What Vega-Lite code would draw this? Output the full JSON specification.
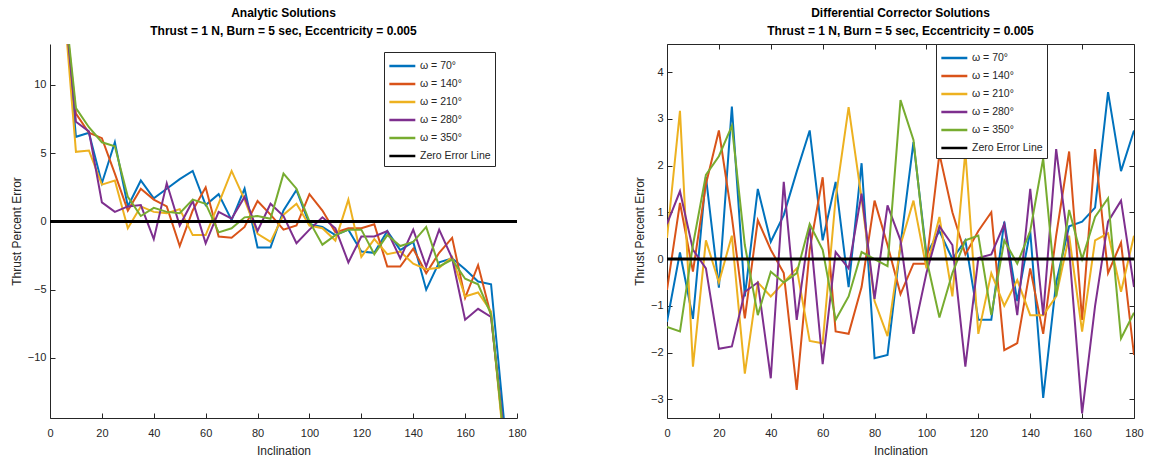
{
  "$schema": "https://vega.github.io/schema/vega-lite/v6.json",
  "padding": {"left": 10, "top": 6, "right": 5, "bottom": 0},
  "background": "white",
  "spacing": 106,
  "config": {
    "font": "Liberation Sans",
    "view": {"stroke": null},
    "axis": {
      "grid": false,
      "domainColor": "#262626",
      "tickColor": "#262626",
      "labelColor": "#262626",
      "titleColor": "#262626",
      "labelFont": "Liberation Sans",
      "titleFont": "Liberation Sans",
      "labelFontSize": 11,
      "titleFontSize": 12,
      "titleFontWeight": "normal",
      "tickSize": -5,
      "labelPadding": 9,
      "labelFlush": false,
      "labelOverlap": false
    },
    "axisX": {"labelPadding": 14, "titlePadding": 7},
    "title": {"font": "Liberation Sans", "fontSize": 12, "fontWeight": "bold", "color": "#000000", "anchor": "middle", "offset": 6, "lineHeight": 18},
    "legend": {
      "orient": "none",
      "strokeColor": "#262626",
      "fillColor": "white",
      "padding": 4,
      "symbolType": "M-1,0H2",
      "symbolSize": 300,
      "symbolStrokeWidth": 2.5,
      "labelFont": "Liberation Sans",
      "labelFontSize": 10.5,
      "labelColor": "#262626",
      "rowPadding": 2,
      "labelOffset": 12,
      "title": null
    }
  },
  "datasets": {
    "analytic": [
      {"inc": 5, "w70": 17.2, "w140": 17.0, "w210": 16.8, "w280": 17.1, "w350": 17.3},
      {"inc": 10, "w70": 6.2, "w140": 7.9, "w210": 5.1, "w280": 7.3, "w350": 8.3},
      {"inc": 15, "w70": 6.5, "w140": 6.5, "w210": 5.2, "w280": 6.6, "w350": 6.9},
      {"inc": 20, "w70": 2.8, "w140": 6.1, "w210": 2.7, "w280": 1.4, "w350": 5.8},
      {"inc": 25, "w70": 5.8, "w140": 3.5, "w210": 3.0, "w280": 0.7, "w350": 5.5},
      {"inc": 30, "w70": 1.1, "w140": 0.8, "w210": -0.5, "w280": 1.1, "w350": 1.8},
      {"inc": 35, "w70": 3.0, "w140": 2.4, "w210": 1.1, "w280": 1.2, "w350": 0.4},
      {"inc": 40, "w70": 1.7, "w140": 1.6, "w210": 0.7, "w280": -1.3, "w350": 1.0},
      {"inc": 45, "w70": 2.4, "w140": 1.1, "w210": 0.6, "w280": 2.8, "w350": 0.7},
      {"inc": 50, "w70": 3.1, "w140": -1.8, "w210": 0.9, "w280": -0.3, "w350": 0.6},
      {"inc": 55, "w70": 3.7, "w140": 0.8, "w210": -1.0, "w280": 1.5, "w350": 1.6},
      {"inc": 60, "w70": 1.2, "w140": 2.5, "w210": -1.0, "w280": -1.6, "w350": 1.3},
      {"inc": 65, "w70": 2.0, "w140": -1.1, "w210": 1.3, "w280": 0.7, "w350": -0.8},
      {"inc": 70, "w70": 0.1, "w140": -1.2, "w210": 3.7, "w280": 0.2, "w350": -0.5},
      {"inc": 75, "w70": 2.4, "w140": -0.4, "w210": 1.6, "w280": 1.8, "w350": 0.3},
      {"inc": 80, "w70": -1.9, "w140": 1.5, "w210": -0.9, "w280": -0.7, "w350": 0.4},
      {"inc": 85, "w70": -1.9, "w140": 0.5, "w210": -1.5, "w280": 1.3, "w350": 0.2},
      {"inc": 90, "w70": 0.8, "w140": -0.6, "w210": 0.5, "w280": 0.4, "w350": 3.5},
      {"inc": 95, "w70": 2.3, "w140": -0.3, "w210": 1.3, "w280": -1.6, "w350": 2.4},
      {"inc": 100, "w70": -0.2, "w140": 2.0, "w210": -0.3, "w280": -0.6, "w350": 0.0},
      {"inc": 105, "w70": -0.4, "w140": 0.8, "w210": -0.5, "w280": 0.3, "w350": -1.7},
      {"inc": 110, "w70": -1.0, "w140": -0.8, "w210": -1.4, "w280": -0.5, "w350": -1.0},
      {"inc": 115, "w70": -0.6, "w140": -0.5, "w210": 1.6, "w280": -3.0, "w350": -0.6},
      {"inc": 120, "w70": -2.2, "w140": -0.5, "w210": -2.6, "w280": -1.1, "w350": -0.6},
      {"inc": 125, "w70": -2.3, "w140": -0.2, "w210": -1.3, "w280": -1.1, "w350": -2.4},
      {"inc": 130, "w70": -0.7, "w140": -3.3, "w210": -2.4, "w280": -0.7, "w350": -1.0},
      {"inc": 135, "w70": -2.1, "w140": -3.3, "w210": -2.2, "w280": -2.7, "w350": -1.8},
      {"inc": 140, "w70": -1.5, "w140": -2.0, "w210": -3.1, "w280": -0.6, "w350": -1.5},
      {"inc": 145, "w70": -5.0, "w140": -3.8, "w210": -3.5, "w280": -3.3, "w350": -0.4},
      {"inc": 150, "w70": -3.0, "w140": -2.3, "w210": -3.4, "w280": -0.6, "w350": -3.3},
      {"inc": 155, "w70": -2.7, "w140": -1.2, "w210": -2.6, "w280": -2.7, "w350": -2.8},
      {"inc": 160, "w70": -3.5, "w140": -5.6, "w210": -5.5, "w280": -7.2, "w350": -4.2},
      {"inc": 165, "w70": -4.4, "w140": -3.2, "w210": -5.2, "w280": -6.4, "w350": -4.6},
      {"inc": 170, "w70": -4.6, "w140": -6.9, "w210": -6.6, "w280": -7.0, "w350": -6.8},
      {"inc": 175, "w70": -14.6, "w140": -16.0, "w210": -16.5, "w280": -15.5, "w350": -16.0}
    ],
    "dc": [
      {"inc": 0, "w70": -1.34, "w140": -0.66, "w210": 0.45, "w280": 0.75, "w350": -1.45},
      {"inc": 5, "w70": 0.14, "w140": 1.2, "w210": 3.17, "w280": 1.45, "w350": -1.55},
      {"inc": 10, "w70": -1.28, "w140": -0.27, "w210": -2.3, "w280": 0.2, "w350": 0.3},
      {"inc": 15, "w70": 1.76, "w140": 1.6, "w210": 0.4, "w280": -0.2, "w350": 1.8},
      {"inc": 20, "w70": -0.61, "w140": 2.75, "w210": -0.5, "w280": -1.92, "w350": 2.2},
      {"inc": 25, "w70": 3.26, "w140": 0.9, "w210": 0.5, "w280": -1.87, "w350": 2.85},
      {"inc": 30, "w70": -0.8, "w140": -1.27, "w210": -2.45, "w280": -0.7, "w350": 0.3},
      {"inc": 35, "w70": 1.5, "w140": 0.83, "w210": -0.5, "w280": -0.5, "w350": -1.2},
      {"inc": 40, "w70": 0.37, "w140": 0.2, "w210": -0.8, "w280": -2.55, "w350": -0.27},
      {"inc": 45, "w70": 0.94, "w140": -0.3, "w210": -0.5, "w280": 1.65, "w350": -0.5},
      {"inc": 50, "w70": 1.87, "w140": -2.8, "w210": -0.2, "w280": -1.3, "w350": -0.3},
      {"inc": 55, "w70": 2.75, "w140": 0.2, "w210": -1.75, "w280": 0.7, "w350": 0.75},
      {"inc": 60, "w70": 0.4, "w140": 1.75, "w210": -1.8, "w280": -2.25, "w350": 0.2},
      {"inc": 65, "w70": 1.65, "w140": -1.55, "w210": 1.3, "w280": 0.15, "w350": -1.3},
      {"inc": 70, "w70": -0.6, "w140": -1.6, "w210": 3.25, "w280": -0.2, "w350": -0.8},
      {"inc": 75, "w70": 2.05, "w140": -0.6, "w210": 1.3, "w280": 1.4, "w350": 0.15},
      {"inc": 80, "w70": -2.12, "w140": 1.25, "w210": -0.9, "w280": -0.85, "w350": 0.0},
      {"inc": 85, "w70": -2.05, "w140": 0.3, "w210": -1.65, "w280": 1.15, "w350": -0.15},
      {"inc": 90, "w70": 0.3, "w140": -0.75, "w210": 0.3, "w280": 0.4, "w350": 3.4},
      {"inc": 95, "w70": 2.5, "w140": -0.1, "w210": 1.25, "w280": -1.6, "w350": 2.55},
      {"inc": 100, "w70": 0.1, "w140": -0.1, "w210": -0.2, "w280": -0.3, "w350": 0.0},
      {"inc": 105, "w70": 0.6, "w140": 2.25, "w210": 0.9, "w280": 0.7, "w350": -1.25},
      {"inc": 110, "w70": 0.0, "w140": 1.0, "w210": -0.8, "w280": 0.3, "w350": -0.3},
      {"inc": 115, "w70": 0.4, "w140": 0.1, "w210": 2.3, "w280": -2.3, "w350": 0.4},
      {"inc": 120, "w70": -1.3, "w140": 0.6, "w210": -1.6, "w280": 0.02, "w350": 0.5},
      {"inc": 125, "w70": -1.3, "w140": 1.0, "w210": -0.3, "w280": 0.1, "w350": -1.2},
      {"inc": 130, "w70": 0.8, "w140": -1.95, "w210": -1.0, "w280": 0.75, "w350": 0.4},
      {"inc": 135, "w70": -0.9, "w140": -1.8, "w210": -0.45, "w280": -1.2, "w350": -0.1},
      {"inc": 140, "w70": 0.6, "w140": -0.2, "w210": -1.2, "w280": 1.5, "w350": 0.6},
      {"inc": 145, "w70": -2.97, "w140": -1.6, "w210": -1.2, "w280": -1.2, "w350": 2.15},
      {"inc": 150, "w70": -0.5, "w140": 0.5, "w210": -0.8, "w280": 2.35, "w350": -0.8},
      {"inc": 155, "w70": 0.7, "w140": 2.3, "w210": 0.5, "w280": 0.2, "w350": 1.05},
      {"inc": 160, "w70": 0.8, "w140": -1.3, "w210": -1.55, "w280": -3.3, "w350": 0.0},
      {"inc": 165, "w70": 1.1, "w140": 2.35, "w210": 0.4, "w280": -1.0, "w350": 0.9},
      {"inc": 170, "w70": 3.57, "w140": -0.3, "w210": 0.55, "w280": 0.8, "w350": 1.3},
      {"inc": 175, "w70": 1.88, "w140": 0.35, "w210": -0.7, "w280": 1.25, "w350": -1.7},
      {"inc": 180, "w70": 2.75, "w140": -2.05, "w210": 0.5, "w280": -0.6, "w350": -1.15}
    ],
    "zero": [
      {"inc": 0, "err": 0},
      {"inc": 180, "err": 0}
    ]
  },
  "resolve": {"scale": {"color": "independent"}, "legend": {"color": "independent"}},
  "hconcat": [
    {
      "width": 467,
      "height": 374,
      "title": {"text": ["Analytic Solutions", "Thrust = 1 N, Burn = 5 sec, Eccentricity = 0.005"]},
      "layer": [
        {
          "data": {"name": "analytic"},
          "transform": [{"fold": ["w70", "w140", "w210", "w280", "w350"], "as": ["series", "err"]}],
          "mark": {"type": "line", "clip": true, "strokeWidth": 2},
          "encoding": {
            "x": {"field": "inc", "type": "quantitative", "scale": {"domain": [0, 180], "nice": false}, "axis": {"values": [0, 20, 40, 60, 80, 100, 120, 140, 160, 180], "title": "Inclination"}},
            "y": {"field": "err", "type": "quantitative", "scale": {"domain": [-14.4, 13], "nice": false, "zero": false}, "axis": {"values": [-10, -5, 0, 5, 10], "title": "Thrust Percent Error"}},
            "color": {
              "field": "series", "type": "nominal",
              "scale": {"domain": ["w70", "w140", "w210", "w280", "w350", "zero"], "range": ["#0072BD", "#D95319", "#EDB120", "#7E2F8E", "#77AC30", "#000000"]},
              "legend": {"legendX": 334, "legendY": 8, "labelExpr": "{'w70': 'ω = 70°', 'w140': 'ω = 140°', 'w210': 'ω = 210°', 'w280': 'ω = 280°', 'w350': 'ω = 350°', 'zero': 'Zero Error Line'}[datum.label]"}
            }
          }
        },
        {
          "data": {"name": "zero"},
          "mark": {"type": "line", "strokeWidth": 3},
          "encoding": {
            "x": {"field": "inc", "type": "quantitative"},
            "y": {"field": "err", "type": "quantitative"},
            "color": {"datum": "zero", "type": "nominal"}
          }
        }
      ]
    },
    {
      "width": 467,
      "height": 374,
      "title": {"text": ["Differential Corrector Solutions", "Thrust = 1 N, Burn = 5 sec, Eccentricity = 0.005"]},
      "resolve": {"axis": {"x": "independent", "y": "independent"}},
      "layer": [
        {
          "data": {"name": "dc"},
          "transform": [{"fold": ["w70", "w140", "w210", "w280", "w350"], "as": ["series", "err"]}],
          "mark": {"type": "line", "clip": true, "strokeWidth": 2},
          "encoding": {
            "x": {"field": "inc", "type": "quantitative", "scale": {"domain": [0, 180], "nice": false}, "axis": {"values": [0, 20, 40, 60, 80, 100, 120, 140, 160, 180], "title": "Inclination"}},
            "y": {"field": "err", "type": "quantitative", "scale": {"domain": [-3.4, 4.6], "nice": false, "zero": false}, "axis": {"values": [-3, -2, -1, 0, 1, 2, 3, 4], "title": "Thrust Percent Error"}},
            "color": {
              "field": "series", "type": "nominal",
              "scale": {"domain": ["w70", "w140", "w210", "w280", "w350", "zero"], "range": ["#0072BD", "#D95319", "#EDB120", "#7E2F8E", "#77AC30", "#000000"]},
              "legend": {"legendX": 269, "legendY": 0, "labelExpr": "{'w70': 'ω = 70°', 'w140': 'ω = 140°', 'w210': 'ω = 210°', 'w280': 'ω = 280°', 'w350': 'ω = 350°', 'zero': 'Zero Error Line'}[datum.label]"}
            }
          }
        },
        {
          "data": {"name": "zero"},
          "mark": {"type": "line", "strokeWidth": 3},
          "encoding": {
            "x": {"field": "inc", "type": "quantitative", "axis": {"orient": "top", "values": [0, 20, 40, 60, 80, 100, 120, 140, 160, 180], "labels": false, "title": null}},
            "y": {"field": "err", "type": "quantitative", "axis": {"orient": "right", "values": [-3, -2, -1, 0, 1, 2, 3, 4], "labels": false, "title": null}},
            "color": {"datum": "zero", "type": "nominal"}
          }
        }
      ]
    }
  ]
}
